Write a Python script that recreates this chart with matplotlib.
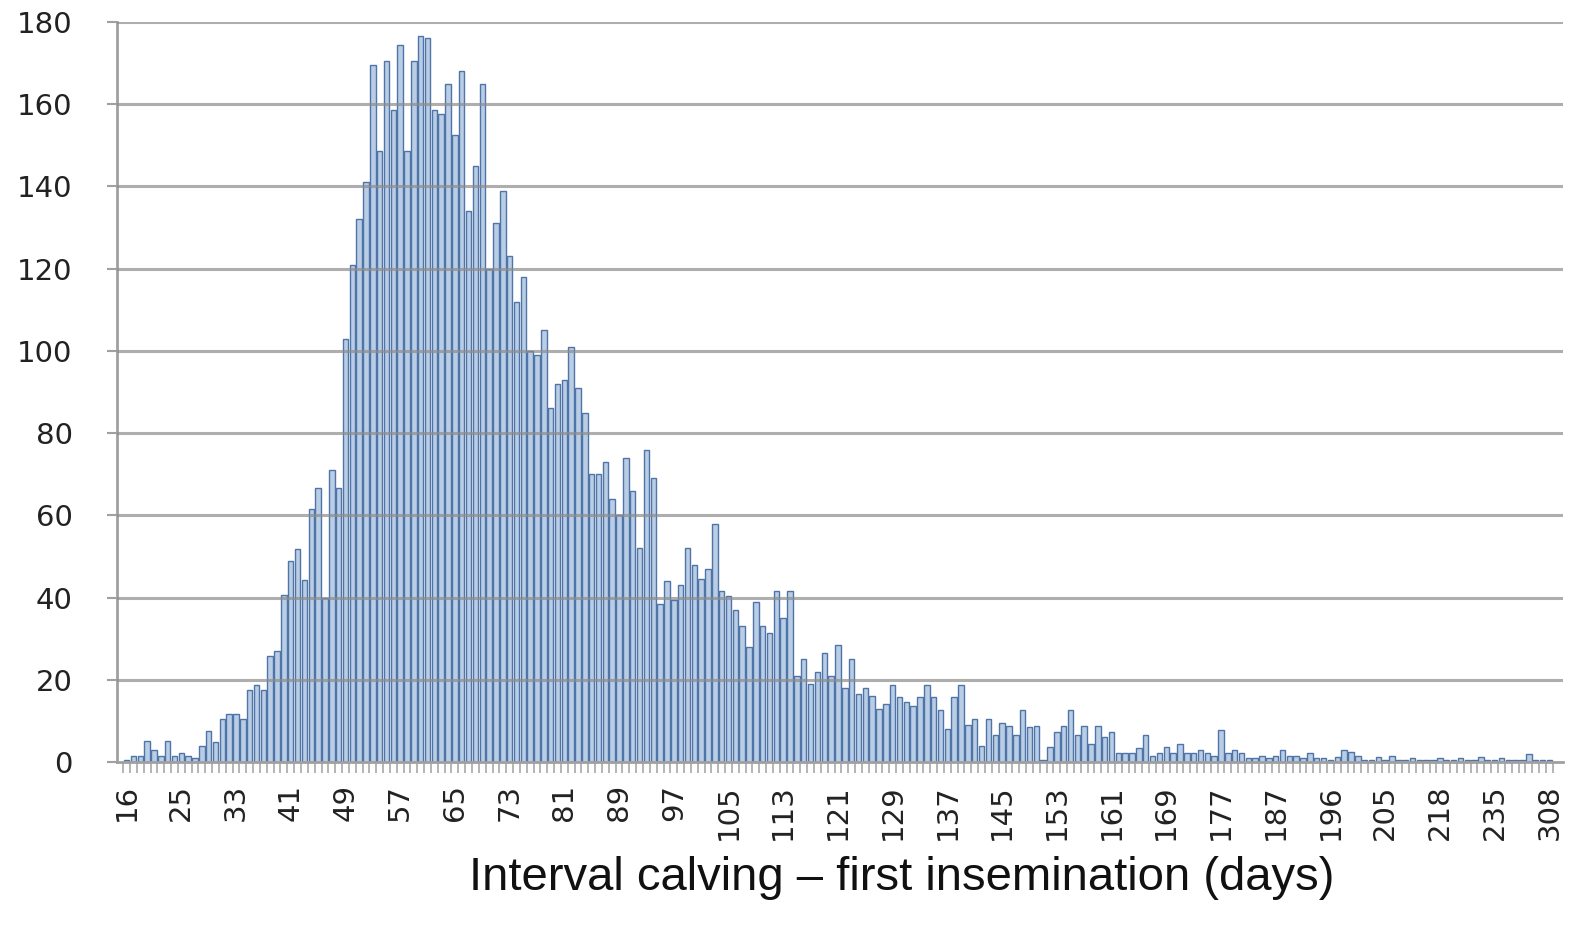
import matplotlib
matplotlib.use("Agg")
import matplotlib.pyplot as plt
from matplotlib.ticker import FixedLocator

# ---- data -------------------------------------------------------------
days = (list(range(16, 24)) + list(range(25, 178)) +
        [178, 179, 180, 181, 182, 184, 185, 187,
         188, 189, 190, 191, 192, 193, 194, 196,
         197, 198, 199, 200, 201, 202, 203, 205,
         206, 207, 208, 210, 212, 214, 216, 218,
         219, 221, 222, 224, 226, 229, 232, 235,
         238, 242, 247, 252, 260, 271, 285, 308])

counts_early = [0.5, 1.5, 1.5, 5, 3, 1.5, 5, 1.5, 2.3, 1.5, 1, 3.8, 7.6, 4.8,
                10.5, 11.7, 11.7, 10.5, 17.5, 18.7, 17.5, 25.7, 26.9, 40.7,
                49, 51.7, 44.3, 61.6, 66.6, 40, 71, 66.6]
counts_peak = [103, 121, 132, 141, 169.5, 148.5, 170.5, 158.5, 174.5, 148.5,
               170.5, 176.5, 176, 158.5, 157.5, 165, 152.5, 168, 134, 145,
               165, 120, 131, 139, 123, 112, 118, 100, 99, 105, 86, 92, 93,
               101, 91, 85, 70, 70, 73, 64, 60, 74, 66, 52, 76, 69]
counts_mid = [38.5, 44, 39.5, 43, 52, 48, 44.5, 47, 58, 41.5, 40.5, 37, 33,
              28, 39, 33, 31.5, 41.5, 35, 41.5, 21, 25, 19, 22, 26.5, 21,
              28.5, 18, 25, 16.5, 18, 16, 13, 14, 18.7, 15.7, 14.7, 13.6,
              15.7, 18.7, 15.7, 12.7, 8, 15.7, 18.7, 9, 10.5, 4, 10.5, 6.6,
              9.6, 8.8, 6.6, 12.7, 8.4, 8.8, 0.5, 3.7, 7.4, 8.8, 12.7, 6.6,
              8.8, 4.5, 8.8]
counts_tail = [6.2, 7.4, 2.3, 2.3, 2.3, 3.3, 6.6, 1.5, 2.3, 3.6, 2.3, 4.5,
               2.3, 2.3, 2.9, 2.3, 1.5, 7.8, 2.3, 2.9, 2.3, 0.9, 0.9, 1.5,
               0.9, 1.5, 2.8, 1.5, 1.5, 0.9, 2.3, 0.9, 0.9, 0.6, 1.3, 2.8,
               2.5, 1.5, 0.6, 0.6, 1.3, 0.6, 1.5, 0.6, 0.6, 0.9, 0.6, 0.6,
               0.6, 0.9, 0.6, 0.6, 0.9, 0.6, 0.6, 1.3, 0.6, 0.6, 0.9, 0.6,
               0.6, 0.6, 2.0, 0.6, 0.6, 0.6]
counts = counts_early + counts_peak + counts_mid + counts_tail

y_ticks = [0, 20, 40, 60, 80, 100, 120, 140, 160, 180]
x_label = "Interval calving \u2013 first insemination (days)"

n = min(len(days), len(counts))
days = days[:n]
counts = counts[:n]

# ---- figure -----------------------------------------------------------
W, H = 1572, 925
fig = plt.figure(figsize=(W / 100, H / 100), dpi=100)
ax = fig.add_axes([117 / W, 1 - 762 / H, (1563 - 117) / W, (762 - 22) / H])

pos = list(range(n))
ax.bar(pos, counts, width=0.8, color="#b9cde5", edgecolor="#4f74a8",
       linewidth=1.0, zorder=2)

ax.set_ylim(0, 180)
ax.set_xlim(-1.4, n - 1 + 2.0)

for v in y_ticks[1:]:
    ax.axhline(v, color="#8c8c8c", alpha=0.7, linewidth=2.2, zorder=3)

ax.set_yticks(y_ticks)
ax.set_yticklabels([str(v) for v in y_ticks], fontsize=21,
                   family="DejaVu Sans", color="#222222")
ax.tick_params(axis="y", length=7, width=1.5, color="#a0a0a0", pad=25)

major = pos[::8]
ax.xaxis.set_major_locator(FixedLocator(major))
ax.set_xticklabels([str(days[i]) for i in major], rotation=90,
                   fontsize=21, family="DejaVu Sans", color="#222222")
ax.xaxis.set_minor_locator(FixedLocator([i - 0.5 for i in range(n + 1)]))
ax.tick_params(axis="x", which="major", length=0, pad=16)
ax.tick_params(axis="x", which="minor", length=8, width=1.2,
               color="#a8a8a8")

for s in ["top", "right"]:
    ax.spines[s].set_visible(False)
ax.spines["left"].set_color("#a0a0a0")
ax.spines["left"].set_linewidth(2)
ax.spines["bottom"].set_color("#a0a0a0")
ax.spines["bottom"].set_linewidth(2)
ax.spines["bottom"].set_zorder(4)

fig.text(902 / W, 1 - 878 / H, x_label, ha="center", va="center",
         fontsize=34, family="Liberation Sans", color="#111111")

fig.savefig("out.png", dpi=100)
